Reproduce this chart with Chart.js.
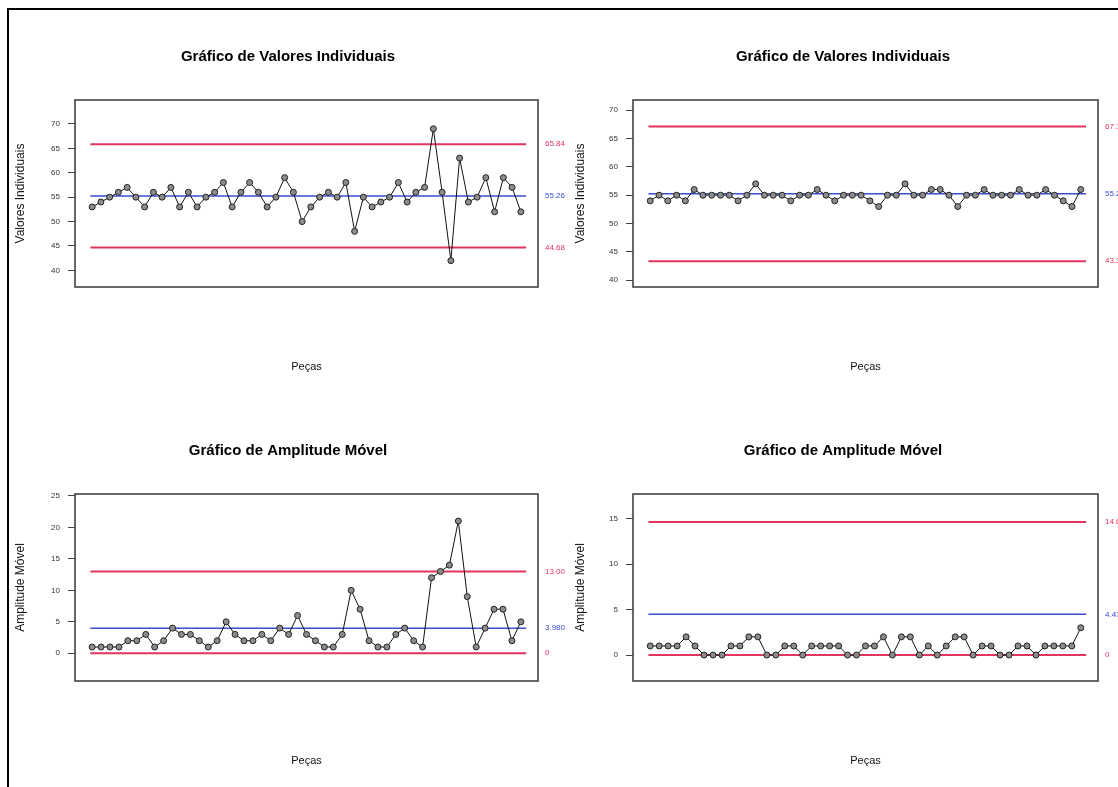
<!DOCTYPE html>
<html>
<head>
<meta charset="utf-8">
<script src="https://cdn.jsdelivr.net/npm/chart.js@4.4.1/dist/chart.umd.min.js"></script>
<style>
  html, body { margin: 0; padding: 0; background: #fff; }
  body { width: 1118px; height: 787px; overflow: hidden; position: relative; font-family: "Liberation Sans", Arial, sans-serif; }
  .frame { position: absolute; left: 7px; top: 8px; width: 1300px; height: 900px; border-left: 2px solid #000; border-top: 2px solid #000; }
  .pan { position: absolute; }
</style>
</head>
<body>
<div class="frame"></div>
<div class="pan" style="left:8px;top:40px;width:560px;height:345px"><canvas id="c1"></canvas></div>
<div class="pan" style="left:568px;top:40px;width:550px;height:345px"><canvas id="c2"></canvas></div>
<div class="pan" style="left:8px;top:434px;width:560px;height:345px"><canvas id="c3"></canvas></div>
<div class="pan" style="left:568px;top:434px;width:550px;height:345px"><canvas id="c4"></canvas></div>
<script>
// ---------------- DATA ----------------
const tituloVI = "Gráfico de Valores Individuais";
const tituloAM = "Gráfico de Amplitude Móvel";
const eixoVI = "Valores Individuais";
const eixoAM = "Amplitude Móvel";
const eixoX = "Peças";

// Left pair (phase 1)
const valores1 = [53,54,55,56,57,55,53,56,55,57,53,56,53,55,56,58,53,56,58,56,
                  53,55,59,56,50,53,55,56,55,58,48,55,53,54,55,58,54,56,57,69,
                  56,42,63,54,55,59,52,59,57,52];
const amplitude1 = [1,1,1,1,2,2,3,1,2,4,3,3,2,1,2,5,3,2,2,3,
                    2,4,3,6,3,2,1,1,3,10,7,2,1,1,3,4,2,1,12,13,
                    14,21,9,1,4,7,7,2,5];
// Right pair (phase 2)
const valores2 = [54,55,54,55,54,56,55,55,55,55,54,55,57,55,55,55,54,55,55,56,
                  55,54,55,55,55,54,53,55,55,57,55,55,56,56,55,53,55,55,56,55,
                  55,55,56,55,55,56,55,54,53,56];
const amplitude2 = [1,1,1,1,2,1,0,0,0,1,1,2,2,0,0,1,1,0,1,1,
                    1,1,0,0,1,1,2,0,2,2,0,1,0,1,2,2,0,1,1,0,
                    0,1,1,0,1,1,1,1,3];

// control limits [LSC, LC, LIC] and their printed labels
const limitesVI1 = [65.84, 55.26, 44.68];
const rotulosVI1 = ["65.84", "55.26", "44.68"];
const limitesAM1 = [13.00, 3.98, 0];
const rotulosAM1 = ["13.00", "3.980", "0"];
const limitesVI2 = [67.14, 55.24, 43.34];
const rotulosVI2 = ["67.14", "55.24", "43.34"];
const limitesAM2 = [14.62, 4.475, 0];
const rotulosAM2 = ["14.62", "4.475", "0"];

// y-axis tick labels
const ticksVI1 = [40, 45, 50, 55, 60, 65, 70];
const ticksVI2 = [40, 45, 50, 55, 60, 65, 70];
const ticksAM1 = [0, 5, 10, 15, 20, 25];
const ticksAM2 = [0, 5, 10, 15];

// ---------------- STYLE ----------------
const RED = "#e2355e";
const BLUE = "#3a4ed0";
const limitColors = [RED, BLUE, RED];
const FONT = "'Liberation Sans', Arial, sans-serif";

const boxPlugin = {
  id: "box",
  afterDatasetsDraw(chart) {
    const a = chart.chartArea, ctx = chart.ctx;
    ctx.save();
    ctx.strokeStyle = "#444";
    ctx.lineWidth = 1.6;
    ctx.strokeRect(a.left, a.top, a.right - a.left, a.bottom - a.top);
    ctx.restore();
  }
};

function makeChart(id, cfg) {
  const n = cfg.values.length;
  const pad = 0.04 * (n - 1);
  const pts = cfg.values.map((v, i) => ({ x: i + 1, y: v }));
  const limitSets = cfg.limits.map((L, k) => ({
    data: [{ x: 0.8, y: L }, { x: n + 0.6, y: L }],
    borderColor: limitColors[k],
    borderWidth: k === 1 ? 1.5 : 2,
    pointRadius: 0,
    order: 5
  }));
  return new Chart(document.getElementById(id), {
    type: "line",
    data: {
      datasets: [
        ...limitSets,
        {
          data: pts,
          borderColor: "#111",
          borderWidth: 1,
          pointRadius: 3,
          pointBackgroundColor: "#8c8c8c",
          pointBorderColor: "#222",
          pointBorderWidth: 1,
          tension: 0,
          order: 1
        }
      ]
    },
    options: {
      responsive: true,
      maintainAspectRatio: false,
      animation: false,
      events: [],
      layout: { padding: { left: 0, right: 0, top: 0, bottom: 11.4 } },
      plugins: {
        legend: { display: false },
        tooltip: { enabled: false },
        title: {
          display: true,
          text: cfg.title,
          color: "#000",
          font: { family: FONT, size: 15, weight: "bold", lineHeight: 1.2 },
          padding: { top: 8, bottom: 34 }
        }
      },
      scales: {
        x: {
          type: "linear",
          min: 1 - pad,
          max: n + pad,
          grid: { display: false, drawTicks: false },
          border: { display: false },
          ticks: { display: false },
          title: {
            display: true,
            text: eixoX,
            color: "#111",
            font: { family: FONT, size: 11 },
            padding: { top: 73.4, bottom: 0 }
          }
        },
        y: {
          position: "left",
          min: cfg.ymin,
          max: cfg.ymax,
          afterBuildTicks: s => { s.ticks = cfg.ticks.map(v => ({ value: v })); },
          afterFit: s => { s.width = cfg.leftW; },
          grid: { drawOnChartArea: false, drawTicks: true, tickLength: 7, color: "#444", lineWidth: 1 },
          border: { display: false },
          ticks: { color: "#333", font: { family: FONT, size: 8 }, padding: 8, autoSkip: false },
          title: {
            display: true,
            text: cfg.ytitle,
            color: "#111",
            font: { family: FONT, size: 12 },
            padding: { top: 5.5, bottom: 0 }
          }
        },
        y2: {
          position: "right",
          min: cfg.ymin,
          max: cfg.ymax,
          afterBuildTicks: s => { s.ticks = cfg.limits.map(v => ({ value: v })); },
          afterFit: s => { s.width = cfg.rightW; },
          grid: { display: false, drawTicks: false },
          border: { display: false },
          ticks: {
            autoSkip: false,
            padding: 7,
            font: { family: FONT, size: 8 },
            color: c => limitColors[c.index],
            callback: (v, i) => cfg.labels[i]
          }
        }
      }
    },
    plugins: [boxPlugin]
  });
}

makeChart("c1", { values: valores1, limits: limitesVI1, labels: rotulosVI1, ticks: ticksVI1,
  ymin: 36.6, ymax: 74.9, title: tituloVI, ytitle: eixoVI, leftW: 67, rightW: 30 });
makeChart("c2", { values: valores2, limits: limitesVI2, labels: rotulosVI2, ticks: ticksVI2,
  ymin: 38.8, ymax: 71.8, title: tituloVI, ytitle: eixoVI, leftW: 65, rightW: 20 });
makeChart("c3", { values: amplitude1, limits: limitesAM1, labels: rotulosAM1, ticks: ticksAM1,
  ymin: -4.4, ymax: 25.3, title: tituloAM, ytitle: eixoAM, leftW: 67, rightW: 30 });
makeChart("c4", { values: amplitude2, limits: limitesAM2, labels: rotulosAM2, ticks: ticksAM2,
  ymin: -2.85, ymax: 17.7, title: tituloAM, ytitle: eixoAM, leftW: 65, rightW: 20 });
</script>
</body>
</html>
